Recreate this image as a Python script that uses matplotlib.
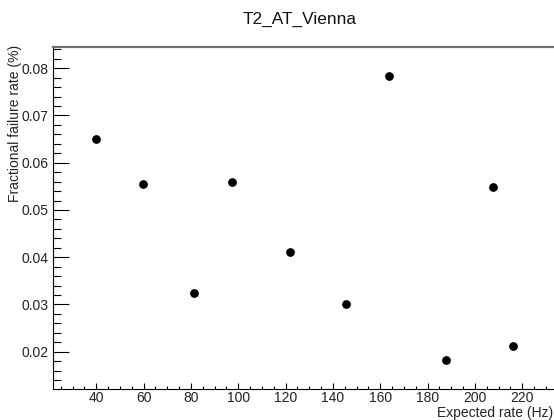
import matplotlib
matplotlib.use("Agg")
import matplotlib.pyplot as plt
from matplotlib.ticker import MultipleLocator, FormatStrFormatter

# Data
expected_rate = [40.0, 59.6, 81.5, 97.4, 121.9, 145.7, 163.6, 187.9, 207.8, 216.1]
failure_rate = [0.0650, 0.0555, 0.0324, 0.0559, 0.0411, 0.0301, 0.0784, 0.0182, 0.0549, 0.0213]

title = "T2_AT_Vienna"
xlabel = "Expected rate (Hz)"
ylabel = "Fractional failure rate (%)"

plt.rcParams['font.family'] = ['Liberation Sans', 'DejaVu Sans']

W, H = 554, 420
fig = plt.figure(figsize=(W / 100, H / 100), dpi=100)

left_px, right_px, top_px, bottom_px = 53, 556, 47, 389
ax = fig.add_axes([left_px / W, 1 - bottom_px / H,
                   (right_px - left_px) / W, (bottom_px - top_px) / H])

ax.plot(expected_rate, failure_rate, 'o', color='black', markersize=6.3,
        markeredgewidth=0, clip_on=False, zorder=3)

ax.set_xlim(21.7, 234.3)
ax.set_ylim(0.0121, 0.0845)

ax.xaxis.set_major_locator(MultipleLocator(20))
ax.xaxis.set_minor_locator(MultipleLocator(5))
ax.yaxis.set_major_locator(MultipleLocator(0.01))
ax.yaxis.set_minor_locator(MultipleLocator(0.002))
ax.xaxis.set_major_formatter(FormatStrFormatter('%g'))
ax.yaxis.set_major_formatter(FormatStrFormatter('%.2f'))

ax.tick_params(axis='y', which='major', direction='in', length=11.5, width=0.8,
               labelsize=10, pad=3, colors='black')
ax.tick_params(axis='y', which='minor', direction='in', length=5.8, width=0.8)
ax.tick_params(axis='x', which='major', direction='in', length=4.3, width=0.8,
               labelsize=10, pad=1.5, colors='black')
ax.tick_params(axis='x', which='minor', direction='in', length=2.4, width=0.8)

for lbl in ax.get_xticklabels() + ax.get_yticklabels():
    lbl.set_color('#222222')

ax.spines['right'].set_visible(False)
ax.spines['left'].set_color('black')
ax.spines['left'].set_linewidth(0.8)
ax.spines['bottom'].set_color('black')
ax.spines['bottom'].set_linewidth(0.8)
ax.spines['top'].set_color('#707070')
ax.spines['top'].set_linewidth(1.6)

fig.text(300 / W, 1 - 19 / H, title, ha='center', va='center', fontsize=12.4,
         color='#111111')
fig.text(553 / W, 1 - 413.5 / H, xlabel, ha='right', va='center', fontsize=10,
         color='#222222')
fig.text(15 / W, 1 - 45 / H, ylabel, ha='center', va='top', rotation=90,
         fontsize=10, color='#222222')

fig.savefig("out.png", dpi=100)
